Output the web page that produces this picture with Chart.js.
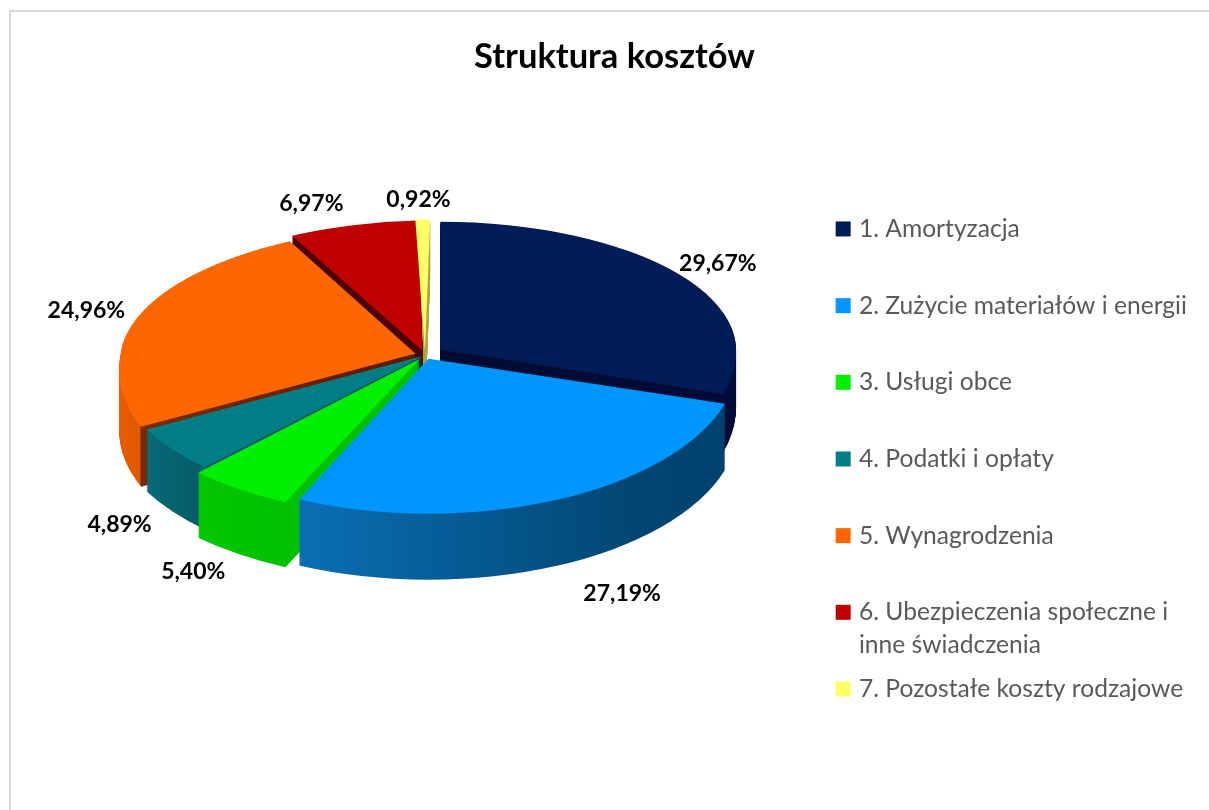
<!DOCTYPE html>
<html><head><meta charset="utf-8">
<style>
html,body{margin:0;padding:0;background:#fff;overflow:hidden;width:1209px;height:810px}
#frame{position:absolute;left:9px;top:10px;width:1300px;height:900px;border:2px solid #d9d9d9;box-sizing:border-box}
canvas{position:absolute;left:0;top:0}
</style>
<script src="https://cdn.jsdelivr.net/npm/chart.js@4"></script>
</head><body>
<div id="frame"></div>
<canvas id="c" width="1209" height="810"></canvas>
<script>
const titleText = 'Struktura kosztów';
const categories = [
  ['1. Amortyzacja'],
  ['2. Zużycie materiałów i energii'],
  ['3. Usługi obce'],
  ['4. Podatki i opłaty'],
  ['5. Wynagrodzenia'],
  ['6. Ubezpieczenia społeczne i', 'inne świadczenia'],
  ['7. Pozostałe koszty rodzajowe']
];
const values = [29.67, 27.19, 5.40, 4.89, 24.96, 6.97, 0.92];
const topColors = ['#001c58', '#0096ff', '#00f000', '#017e85', '#ff6600', '#c00000', '#ffff66'];
const sideStops = [
  [[425, '#000c30'], [735, '#000c38']],
  [[300, '#0a6fb4'], [480, '#05588f'], [620, '#024672'], [730, '#004070']],
  [[190, '#00c800'], [300, '#00c000']],
  [[140, '#0a7280'], [200, '#065f6c'], [420, '#004a50']],
  [[118, '#ea6000'], [163, '#e05800'], [165, '#7a2a00'], [420, '#5a1a00']],
  [[290, '#4a0000'], [420, '#4a0000']],
  [[410, '#a8a840'], [430, '#a8a840']]
];
const sliceOffsets = [19, 8, 9, 2, 10, 10, 9];
const sliceDepths = [58, 66, 65, 62, 60, 60, 60];
const backShear = [0, 0, 0, 0, 0.13, 0.1, 0.05];
const frontShear = [0, 0, 0, 0, 0.2, 0, 0];
const frontStretch = [1, 1.05, 1.06, 1.06, 1, 1, 1];
const labelNudges = [[56,-15],[76,122],[-65,111],[-70,92],[-56,-8],[-33,-28],[2,-27]];

const CX = 425, CY = 355, RADIUS = 295, K_BACK = 0.434, K_FRONT = 0.525;

function placeFace(ctx, arc, i, depth, front) {
  ctx.save();
  ctx.beginPath();
  if (front) ctx.rect(0, CY + depth, 1209, 810);
  else ctx.rect(0, 0, 1209, CY + depth);
  ctx.clip();
  ctx.translate(CX, CY + depth);
  if (front) ctx.transform(frontStretch[i], 0, -frontShear[i], 1, 0, 0);
  else ctx.transform(1, 0, -backShear[i], 1, 0, 0);
  ctx.scale(1, front ? K_FRONT : K_BACK);
  ctx.translate(-arc.x, -arc.y);
}

const pie3d = {
  id: 'pie3d',
  afterLayout(chart) {
    const l = chart.legend;
    l.left = 829; l.top = 206; l.bottom = 810; l.right = 1209;
  },
  beforeDatasetDraw(chart, args) {
    const ctx = chart.ctx;
    const arcs = args.meta.data;
    const sideFills = arcs.map((arc, i) => {
      const stops = sideStops[i];
      const x0 = stops[0][0], x1 = stops[stops.length - 1][0];
      const g = ctx.createLinearGradient(x0 - CX + arc.x, 0, x1 - CX + arc.x, 0);
      stops.forEach(s => g.addColorStop((s[0] - x0) / (x1 - x0), s[1]));
      return g;
    });
    for (let d = Math.max(...sliceDepths); d >= 0; d--) {
      arcs.forEach((arc, i) => {
        if (d > sliceDepths[i]) return;
        const saved = arc.options;
        const o = Object.create(saved);
        o.backgroundColor = d === 0 ? topColors[i] : sideFills[i];
        arc.options = o;
        [false, true].forEach(front => {
          placeFace(ctx, arc, i, d, front);
          arc.draw(ctx);
          ctx.restore();
        });
        arc.options = saved;
      });
    }
    return false;
  },
  afterDraw(chart) {
    const ctx = chart.ctx;
    const arcs = chart.getDatasetMeta(0).data;
    ctx.save();
    ctx.font = 'bold 23px Lato';
    ctx.fillStyle = '#000';
    ctx.textAlign = 'center';
    ctx.textBaseline = 'middle';
    arcs.forEach((arc, i) => {
      const mid = (arc.startAngle + arc.endAngle) / 2;
      const x = CX + RADIUS * Math.cos(mid) + labelNudges[i][0];
      const y = CY + RADIUS * K_BACK * Math.sin(mid) + labelNudges[i][1];
      ctx.fillText(values[i].toFixed(2).replace('.', ',') + '%', x, y);
    });
    ctx.restore();
  }
};

new Chart(document.getElementById('c'), {
  type: 'pie',
  data: {
    labels: categories,
    datasets: [{
      data: values,
      backgroundColor: topColors,
      borderWidth: 0,
      offset: sliceOffsets.map(o => o * 4),
      radius: RADIUS
    }]
  },
  plugins: [pie3d],
  options: {
    responsive: false,
    animation: false,
    events: [],
    layout: { padding: { left: 20, right: 0, top: 0, bottom: 40 } },
    plugins: {
      tooltip: { enabled: false },
      title: {
        display: true,
        text: titleText,
        color: '#000',
        font: { family: 'Lato', size: 34.5, weight: 'bold', lineHeight: 1.2 },
        padding: { top: 36, bottom: 6 }
      },
      legend: {
        position: 'right',
        align: 'start',
        labels: {
          color: '#595959',
          font: { family: 'Lato', size: 24.6, lineHeight: 33 / 24.6 },
          boxWidth: 7,
          boxHeight: 7,
          padding: 10.67,
          generateLabels(chart) {
            return Chart.overrides.pie.plugins.legend.labels.generateLabels(chart).map(item => ({
              ...item,
              text: item.text.length > 1 ? item.text : [item.text[0], ''],
              strokeStyle: item.fillStyle,
              lineWidth: 8
            }));
          }
        }
      }
    }
  }
});
</script>
</body></html>
